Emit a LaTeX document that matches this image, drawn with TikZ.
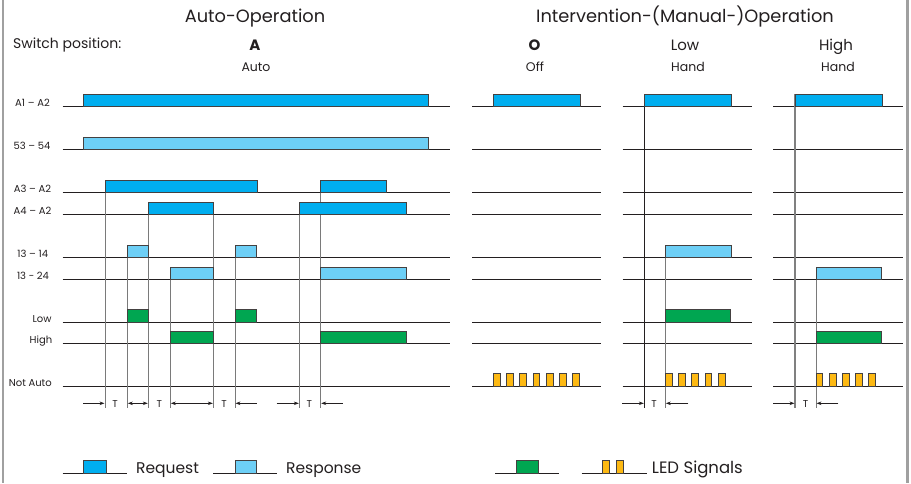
\documentclass[tikz,border=0pt]{standalone}
\usepackage{fontspec}
\setmainfont{Poppins}
\usetikzlibrary{arrows.meta}
\definecolor{req}{HTML}{00AEEF}
\definecolor{resp}{HTML}{6DCFF6}
\definecolor{grn}{HTML}{00A651}
\definecolor{led}{HTML}{FDB913}
\definecolor{ink}{HTML}{231F20}
\definecolor{framec}{HTML}{A0A0A0}
\definecolor{vgray}{HTML}{7A7A7A}
\begin{document}
\begin{tikzpicture}[x=1pt,y=-1pt,
  sigline/.style={draw=ink, line width=0.9pt},
  pulse/.style={draw=ink!85, line width=0.9pt},
  vline/.style={draw=vgray, line width=0.8pt},
  vdark/.style={draw=ink, line width=0.8pt},
  tarrow/.style={draw=ink, line width=0.6pt, -{Stealth[length=5pt,width=3.5pt]}},
  tboth/.style={draw=ink, line width=0.6pt, {Stealth[length=5pt,width=3.5pt]}-{Stealth[length=5pt,width=3.5pt]}},
  txt/.style={inner sep=0pt, anchor=base, text=ink},
  lbl/.style={txt, font=\fontsize{10}{10}\selectfont},
  ttl/.style={txt, font=\fontsize{17.8}{17.8}\selectfont},
  swpos/.style={txt, font=\fontsize{15}{15}\selectfont},
  swsub/.style={txt, font=\fontsize{12.5}{12.5}\selectfont},
  leg/.style={txt, font=\fontsize{15.5}{15.5}\selectfont}]
\useasboundingbox (0,0) rectangle (911,483);
\fill[white] (0,0) rectangle (911,483);
% frame
\draw[framec, line width=2pt] (2.5,0) -- (2.5,483);
\draw[framec, line width=2.5pt] (907.5,0) -- (907.5,483);

% titles
\node[ttl] (t1) at (255,22) {Auto-Operation};
\node[ttl] (t2) at (685,22) {Intervention-(Manual-)Operation};
\node[swpos, font=\fontsize{14}{14}\selectfont, anchor=base west] (sp) at (13,48) {Switch position:};
\node[swpos, font=\fontsize{15}{15}\selectfont\bfseries] (pA) at (255,50) {A};
\node[swsub] (pAs) at (256,71) {Auto};
\node[swpos, font=\fontsize{15}{15}\selectfont\bfseries] (pO) at (534.5,50) {O};
\node[swsub] (pOs) at (535,71) {Off};
\node[swpos] (pL) at (685,50) {Low};
\node[swsub] (pLs) at (688,71) {Hand};
\node[swpos] (pH) at (836,50) {High};
\node[swsub] (pHs) at (838,71) {Hand};

% row labels
\node[lbl] (l1) at (32.5,106) {A1 – A2};
\node[lbl] (l2) at (32,149) {53 – 54};
\node[lbl] (l3) at (32.5,192.5) {A3 – A2};
\node[lbl] (l4) at (32.5,214.3) {A4 – A2};
\node[lbl] (l5) at (32.7,257.5) {13 – 14};
\node[lbl] (l6) at (33,279) {13 - 24};
\node[lbl] (l7) at (42,322) {Low};
\node[lbl] (l8) at (41,343.5) {High};
\node[lbl] (l9) at (30.3,386.5) {Not Auto};

% signal lines
\foreach \y in {106,149,192.7,214.3,257.7,279,322,343.7,386.7}{
  \draw[sigline] (62.7,\y) -- (450,\y);
  \draw[sigline] (472.3,\y) -- (601,\y);
  \draw[sigline] (622.7,\y) -- (752.3,\y);
  \draw[sigline] (773.3,\y) -- (902.7,\y);
}

% vertical lines, auto section
\draw[vline] (105,180) -- (105,408.3);
\draw[vline] (127.3,245) -- (127.3,408.3);
\draw[vline] (148.3,202.3) -- (148.3,408.3);
\draw[vline] (170.3,267) -- (170.3,408.3);
\draw[vline] (213.3,202.3) -- (213.3,408.3);
\draw[vline] (235,245) -- (235,408.3);
\draw[vline] (299.3,202.3) -- (299.3,408.3);
\draw[vline] (320.7,180) -- (320.7,408.3);
% manual sections
\draw[vdark] (644.3,94.3) -- (644.3,408.3);
\draw[vline] (665.3,245) -- (665.3,408.3);
\draw[vline, line width=1.2pt, draw=gray] (795,94.3) -- (795,408.3);
\draw[vline] (816,267) -- (816,408.3);

% Auto pulses
\filldraw[pulse, fill=req] (83.3,106) rectangle (428.3,94.3);
\filldraw[pulse, fill=resp] (83.3,149) rectangle (428.3,137);
\filldraw[pulse, fill=req] (105,192.7) rectangle (257.3,180);
\filldraw[pulse, fill=req] (320.7,192.7) rectangle (386.7,180);
\filldraw[pulse, fill=req] (148.3,214.3) rectangle (213.3,202.3);
\filldraw[pulse, fill=req] (299.3,214.3) rectangle (406,202.3);
\filldraw[pulse, fill=resp] (127.3,257.7) rectangle (148,245);
\filldraw[pulse, fill=resp] (235,257.7) rectangle (256.3,245);
\filldraw[pulse, fill=resp] (170.3,279) rectangle (213.3,267);
\filldraw[pulse, fill=resp] (320.7,279) rectangle (406.7,267);
\filldraw[pulse, fill=grn] (127.3,322) rectangle (148,309.3);
\filldraw[pulse, fill=grn] (235,322) rectangle (256.3,309.3);
\filldraw[pulse, fill=grn] (170.3,343.7) rectangle (213.3,331.3);
\filldraw[pulse, fill=grn] (320.7,343.7) rectangle (406.7,331.3);

% Off section
\filldraw[pulse, fill=req] (493.3,106) rectangle (580.3,94.3);
\foreach \i in {0,...,6}{
  \filldraw[pulse, line width=0.7pt, fill=led] ({493.3+13.2*\i},386.7) rectangle ++(6.8,-13.3);
}
% Low section
\filldraw[pulse, fill=req] (644.3,106) rectangle (731,94.3);
\filldraw[pulse, fill=resp] (665.3,257.7) rectangle (731,245);
\filldraw[pulse, fill=grn] (665.3,322) rectangle (730.3,309.3);
\foreach \i in {0,...,4}{
  \filldraw[pulse, line width=0.7pt, fill=led] ({665.3+13.2*\i},386.7) rectangle ++(6.8,-13.3);
}
% High section
\filldraw[pulse, fill=req] (795,106) rectangle (882,94.3);
\filldraw[pulse, fill=resp] (816,279) rectangle (881,267);
\filldraw[pulse, fill=grn] (816,343.7) rectangle (881,331.3);
\foreach \i in {0,...,4}{
  \filldraw[pulse, line width=0.7pt, fill=led] ({816+13.2*\i},386.7) rectangle ++(6.8,-13.3);
}

% T markers
\draw[tarrow] (83.3,403.3) -- (104.5,403.3);
\draw[tboth] (127.8,403.3) -- (147.8,403.3);
\draw[tboth] (170.8,403.3) -- (212.8,403.3);
\draw[tarrow] (256.7,403.3) -- (235.5,403.3);
\draw[tarrow] (276.7,403.3) -- (298.8,403.3);
\draw[tarrow] (342.7,403.3) -- (321.2,403.3);
\draw[tarrow] (622.3,403.3) -- (643.8,403.3);
\draw[tarrow] (688.3,403.3) -- (665.8,403.3);
\draw[tarrow] (773.3,403.3) -- (794.5,403.3);
\draw[tarrow] (838.3,403.3) -- (816.5,403.3);
\foreach \x in {115,159.3,224,309.3,654,805.5}{
  \node[lbl] at (\x,407.5) {T};
}

% legend
\draw[sigline] (62.7,473.3) -- (126.7,473.3);
\filldraw[pulse, fill=req] (83.3,473.3) rectangle (106,460);
\node[leg, anchor=base west] (lr) at (136,473) {Request};
\draw[sigline] (213.3,473.3) -- (277.3,473.3);
\filldraw[pulse, fill=resp] (235,473.3) rectangle (256,460);
\node[leg, anchor=base west] (lp) at (286,473) {Response};
\draw[sigline] (495,473.3) -- (559.3,473.3);
\filldraw[pulse, fill=grn] (516.7,473.3) rectangle (538.3,460);
\draw[sigline] (581.7,473.3) -- (646.7,473.3);
\filldraw[pulse, line width=0.7pt, fill=led] (602.7,473.3) rectangle (608.9,460);
\filldraw[pulse, line width=0.7pt, fill=led] (616.7,473.3) rectangle (623.1,460);
\node[leg, font=\fontsize{16.5}{16.5}\selectfont, anchor=base west] (ll) at (651.7,473) {LED Signals};
\end{tikzpicture}
\end{document}
